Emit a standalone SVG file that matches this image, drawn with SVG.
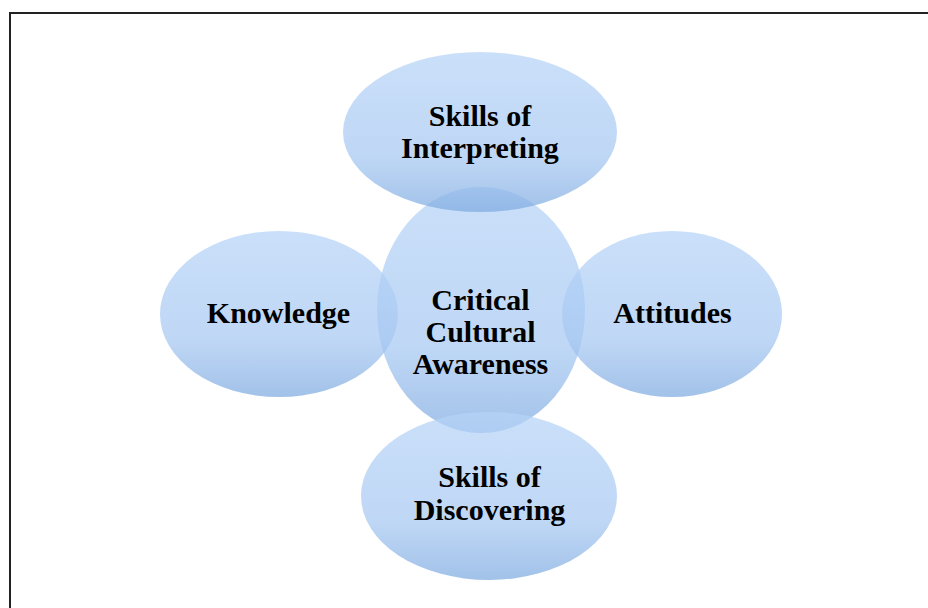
<svg xmlns="http://www.w3.org/2000/svg" width="928" height="608" viewBox="0 0 928 608">
  <defs>
    <linearGradient id="g" x1="0" y1="0" x2="0" y2="1">
      <stop offset="0" stop-color="#b6d3f7"/>
      <stop offset="0.65" stop-color="#a6c8f2"/>
      <stop offset="1" stop-color="#7eaae0"/>
    </linearGradient>
    <filter id="soft" x="-5%" y="-5%" width="110%" height="110%">
      <feGaussianBlur stdDeviation="0.7"/>
    </filter>
  </defs>
  <style>
    .bubble { fill: url(#g); fill-opacity: 0.72; filter: url(#soft); }
    .label { font-family: "Liberation Serif", "Times New Roman", serif; font-weight: bold; font-size: 30px; fill: #000; text-anchor: middle; }
  </style>
  <rect x="0" y="0" width="928" height="608" fill="#fff"/>
  <path d="M10,608 V13 H928" fill="none" stroke="#222" stroke-width="2"/>
  <g id="connectors"></g>
  <g id="node-center">
    <ellipse class="bubble" cx="481" cy="310" rx="104" ry="123"/>
  </g>
  <g id="node-top">
    <ellipse class="bubble" cx="480" cy="132" rx="137" ry="80"/>
  </g>
  <g id="node-left">
    <ellipse class="bubble" cx="279" cy="314" rx="119" ry="83"/>
  </g>
  <g id="node-right">
    <ellipse class="bubble" cx="672" cy="314" rx="110" ry="83"/>
  </g>
  <g id="node-bottom">
    <ellipse class="bubble" cx="489" cy="496" rx="128" ry="84"/>
  </g>
  <g id="labels">
    <text class="label" x="480.5" y="310">Critical</text>
    <text class="label" x="480.5" y="342">Cultural</text>
    <text class="label" x="480.5" y="374">Awareness</text>
    <text class="label" x="480" y="126">Skills of</text>
    <text class="label" x="480" y="158">Interpreting</text>
    <text class="label" x="278.5" y="323">Knowledge</text>
    <text class="label" x="672.5" y="323">Attitudes</text>
    <text class="label" x="489.5" y="487">Skills of</text>
    <text class="label" x="489.5" y="520">Discovering</text>
  </g>
</svg>
